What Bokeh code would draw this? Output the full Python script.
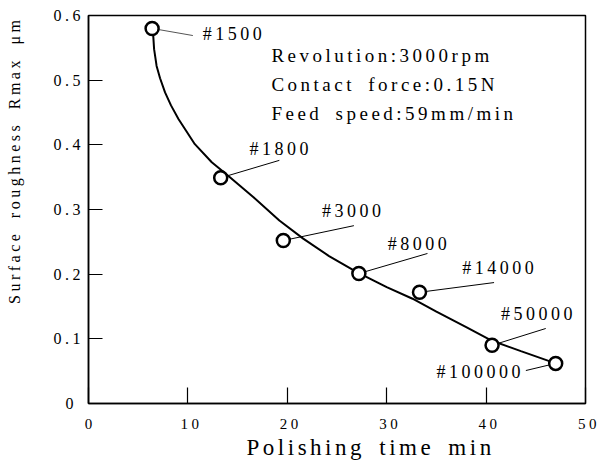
from bokeh.plotting import figure
from bokeh.models import ColumnDataSource, Range1d, FixedTicker
from bokeh.core.properties import value
from bokeh.embed import file_html
from bokeh.resources import INLINE

# ---- data ----
time_min = [6.4, 13.3, 19.6, 27.2, 33.3, 40.6, 47.0]
rmax_um = [0.580, 0.349, 0.252, 0.201, 0.172, 0.090, 0.062]
grit = ["#1500", "#1800", "#3000", "#8000", "#14000", "#50000", "#100000"]

curve_t = [6.5, 6.6, 6.85, 7.2, 7.7, 8.3, 9.05, 10.7, 12.4, 13.9, 16.6, 19.2,
           21.6, 24.2, 27.0, 30.0, 32.6, 35.0, 38.0, 40.6, 43.5, 47.0]
curve_r = [0.572, 0.548, 0.522, 0.503, 0.481, 0.461, 0.440, 0.401, 0.373,
           0.354, 0.319, 0.283, 0.255, 0.228, 0.203, 0.180, 0.162, 0.142,
           0.118, 0.097, 0.081, 0.062]

# label anchors (left edge) and leader-line ends (data units)
label_t = [11.5, 16.2, 23.5, 30.1, 37.6, 41.5, 35.0]
label_r = [0.572, 0.394, 0.298, 0.247, 0.209, 0.139, 0.049]
leader_t = [10.5, 19.2, 26.7, 34.1, 40.8, 46.0, 44.0]
leader_r = [0.569, 0.376, 0.275, 0.232, 0.187, 0.116, 0.051]
leader_color = ["#555555", "black", "black", "black", "black", "black", "black"]

cond_text = ["Revolution:3000rpm", "Contact force:0.15N", "Feed speed:59mm/min"]
cond_t = [18.4, 18.4, 18.4]
cond_r = [0.538, 0.493, 0.448]

x_ticks = [0, 10, 20, 30, 40, 50]
y_ticks = [0, 0.1, 0.2, 0.3, 0.4, 0.5, 0.6]
y_tick_labels = ["0", "0.1", "0.2", "0.3", "0.4", "0.5", "0.6"]

FONT_NAME = "Liberation Serif"
FONT = value(FONT_NAME)

p = figure(width=600, height=464, output_backend="svg", toolbar_location=None,
           x_range=Range1d(0, 50), y_range=Range1d(0, 0.6),
           min_border_left=88, min_border_right=15, min_border_top=15,
           min_border_bottom=61)
p.stylesheets = [":host { letter-spacing: 3.5px; word-spacing: 5px; }"]

p.grid.visible = False
p.outline_line_color = "black"
p.outline_line_width = 1.5
p.background_fill_color = "white"
p.border_fill_color = "white"

# axes
p.xaxis.ticker = FixedTicker(ticks=x_ticks)
p.yaxis.ticker = FixedTicker(ticks=y_ticks)
p.yaxis.major_label_overrides = {t: s for t, s in zip(y_ticks, y_tick_labels)}
for ax in (p.xaxis, p.yaxis):
    ax.axis_line_color = "black"
    ax.axis_line_width = 1.5
    ax.major_tick_line_color = "black"
    ax.major_tick_line_width = 1.2
    ax.major_tick_out = 0
    ax.minor_tick_line_color = None
    ax.major_label_text_font = FONT_NAME
    ax.major_label_text_color = "black"
    ax.axis_label_text_font = FONT_NAME
    ax.axis_label_text_font_style = "normal"
    ax.axis_label_text_color = "black"
p.xaxis.major_tick_in = 16
p.yaxis.major_tick_in = 14
p.xaxis.major_label_text_font_size = "15px"
p.yaxis.major_label_text_font_size = "16px"
p.xaxis.major_label_standoff = 15
p.yaxis.major_label_standoff = 15
p.xaxis.axis_label = "Polishing time  min"
p.xaxis.axis_label_text_font_size = "23px"
p.xaxis.axis_label_standoff = 3
p.yaxis.axis_label = "Surface roughness Rmax  \u03bcm"
p.yaxis.axis_label_text_font_size = "16px"
p.yaxis.axis_label_standoff = 28

# fitted curve
p.line(curve_t, curve_r, line_color="black", line_width=2)

# leader lines
lead = ColumnDataSource(dict(x0=time_min, y0=rmax_um, x1=leader_t, y1=leader_r,
                             c=leader_color))
p.segment(x0="x0", y0="y0", x1="x1", y1="y1", source=lead,
          line_color="c", line_width=1)

# measured points
p.scatter(time_min, rmax_um, marker="circle", size=13, fill_color="white",
          line_color="black", line_width=2.5)

# grit labels
lab = ColumnDataSource(dict(x=label_t, y=label_r, text=grit))
p.text(x="x", y="y", text="text", source=lab, text_align="left",
       text_baseline="middle", text_font=FONT, text_font_size="18px",
       text_color="black")

# condition annotations
cond = ColumnDataSource(dict(x=cond_t, y=cond_r, text=cond_text))
p.text(x="x", y="y", text="text", source=cond, text_align="left",
       text_baseline="middle", text_font=FONT, text_font_size="19px",
       text_color="black")

open("out.html", "w").write(file_html(p, INLINE))
